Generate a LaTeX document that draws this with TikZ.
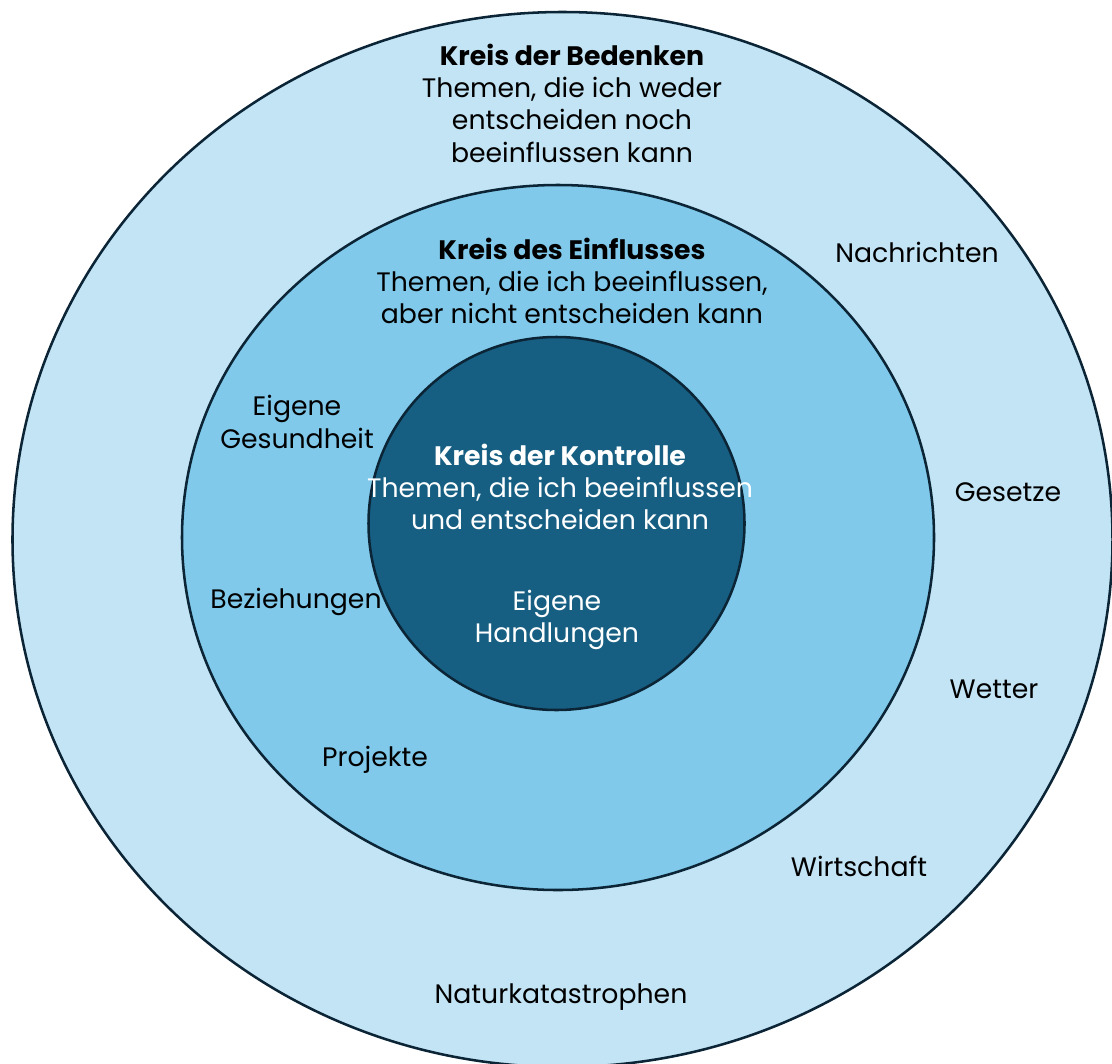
\documentclass[tikz,border=0pt]{standalone}
\usepackage{fontspec}
\setmainfont{Poppins}
\definecolor{outerblue}{HTML}{C2E4F4}
\definecolor{midblue}{HTML}{80C9EA}
\definecolor{innerblue}{HTML}{175F82}
\definecolor{ringline}{HTML}{0B2536}
\begin{document}
\begin{tikzpicture}[x=0.25mm,y=-0.25mm, line join=round, line cap=round,
		ring/.style={draw=ringline, line width=1.8pt},
		lbl/.style={align=center, inner sep=0pt, font=\fontsize{19}{23}\selectfont}]
			\useasboundingbox (0,0) rectangle (1112,1063);
			\clip (0,0) rectangle (1112,1063);
			% drei Kreise
			\draw[ring, fill=outerblue] (562.5,539.5) ellipse [x radius=550, y radius=527.5];
			\draw[ring, fill=midblue] (558,537.5) ellipse [x radius=376, y radius=352.5];
			\draw[ring, fill=innerblue] (556.5,523.5) ellipse [x radius=188, y radius=186.5];
			% Titel
			\node[lbl] (bedenken) at (572,103) {\textbf{Kreis der Bedenken}\\Themen, die ich weder\\entscheiden noch\\beeinflussen kann};
			\node[lbl] (einfluss) at (572,281) {\textbf{Kreis des Einflusses}\\Themen, die ich beeinflussen,\\aber nicht entscheiden kann};
			\node[lbl, text=white] (kontrolle) at (560,487) {\textbf{Kreis der Kontrolle}\\Themen, die ich beeinflussen\\und entscheiden kann};
			% Beispiele
			\node[lbl, text=white] (handlungen) at (557,620) {Eigene\\Handlungen};
			\node[lbl] (gesundheit) at (297,422) {Eigene\\Gesundheit};
			\node[lbl] (beziehungen) at (296,602) {Beziehungen};
			\node[lbl] (projekte) at (375,760) {Projekte};
			\node[lbl] (nachrichten) at (917,252) {Nachrichten};
			\node[lbl] (gesetze) at (1008,492) {Gesetze};
			\node[lbl] (wetter) at (994,689) {Wetter};
			\node[lbl] (wirtschaft) at (859,866) {Wirtschaft};
			\node[lbl] (natur) at (561,997) {Naturkatastrophen};
		\end{tikzpicture}
\end{document}
